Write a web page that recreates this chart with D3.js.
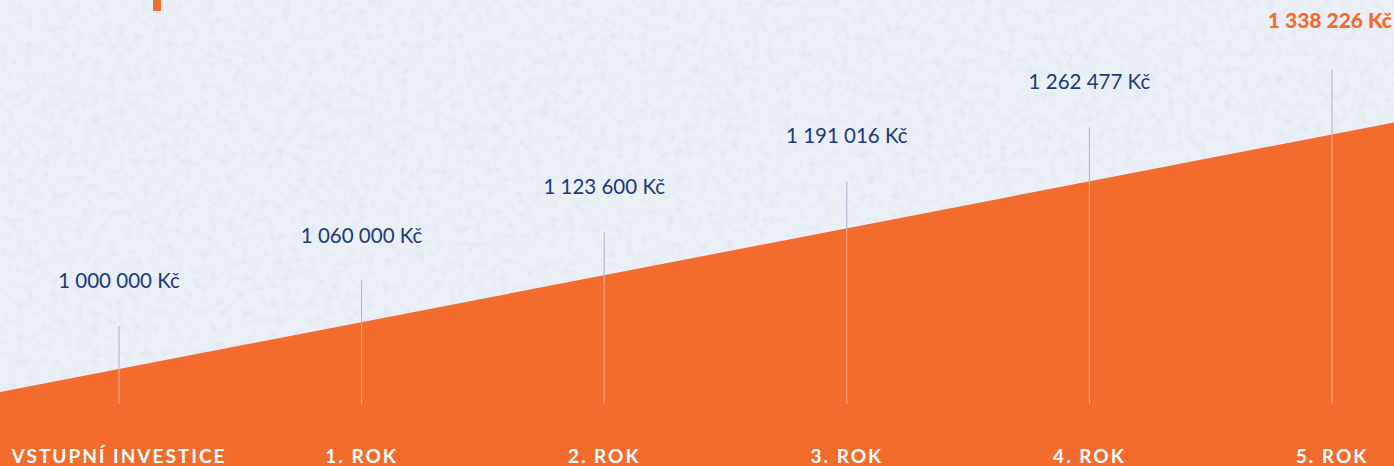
<!DOCTYPE html>
<html>
<head>
<meta charset="utf-8">
<script src="https://cdn.jsdelivr.net/npm/d3@7"></script>
<style>
  html, body { margin: 0; padding: 0; background: #ebeff6; overflow: hidden; }
  svg { display: block; }
</style>
</head>
<body>
<div id="chart"></div>
<script>
// investment growth, 6 % per year
const categories = ["VSTUPNÍ INVESTICE", "1. ROK", "2. ROK", "3. ROK", "4. ROK", "5. ROK"];
const values = [1000000, 1060000, 1123600, 1191016, 1262477, 1338226];
const valueLabels = ["1 000 000 Kč", "1 060 000 Kč", "1 123 600 Kč", "1 191 016 Kč", "1 262 477 Kč", "1 338 226 Kč"];

const width = 1394,
  height = 466;

const orange = "#f36b2d",
  navy = "#1c397a";

const svg = d3.select("#chart").append("svg")
  .attr("width", width)
  .attr("height", height)
  .attr("viewBox", [0, 0, width, height]);

// paper texture
const defs = svg.append("defs");
const noise = defs.append("filter").attr("id", "noise")
  .attr("x", 0).attr("y", 0).attr("width", "100%").attr("height", "100%");
noise.append("feTurbulence")
  .attr("type", "fractalNoise")
  .attr("baseFrequency", 0.12)
  .attr("numOctaves", 3)
  .attr("seed", 3);
noise.append("feColorMatrix")
  .attr("values", "0 0 0 0 0.55  0 0 0 0 0.58  0 0 0 0 0.64  0 0 0 -1.8 0.95");

svg.append("rect")
  .attr("width", width).attr("height", height)
  .attr("fill", "#ebeff6");
svg.append("rect")
  .attr("width", width).attr("height", height)
  .attr("filter", "url(#noise)")
  .attr("opacity", 0.3);

const x = d3.scalePoint()
  .domain(categories)
  .range([119, 1332]);

// where the label stems start
const y = d3.scaleLinear()
  .domain([values[0], values[values.length - 1]])
  .range([326, 70]);

// the rising orange wedge, straight edge through first and last value
const yArea = d3.scaleLinear()
  .domain([values[0], values[values.length - 1]])
  .range([369, 134.5]);

const first = [x(categories[0]), yArea(values[0])],
  last = [x(categories[5]), yArea(values[5])];
const slope = (last[1] - first[1]) / (last[0] - first[0]);
const edge = xx => first[1] + slope * (xx - first[0]);

const areaPts = [[0, edge(0)], [width, edge(width)]];
const area = d3.area()
  .x(d => d[0])
  .y0(height)
  .y1(d => d[1]);

defs.append("clipPath").attr("id", "wedge")
  .append("path").attr("d", area(areaPts));

const stem = g => g.selectAll("line")
  .data(values)
  .join("line")
  .attr("x1", (d, i) => x(categories[i]))
  .attr("x2", (d, i) => x(categories[i]))
  .attr("y1", d => y(d))
  .attr("y2", 404);

svg.append("g")
  .attr("stroke", "#a6b2cd")
  .attr("stroke-width", 1)
  .call(stem);

svg.append("path")
  .attr("d", area(areaPts))
  .attr("fill", orange);

svg.append("g")
  .attr("clip-path", "url(#wedge)")
  .attr("stroke", "#fbb08c")
  .attr("stroke-width", 1)
  .call(stem);

// value labels
svg.append("g")
  .selectAll("text")
  .data(values.slice(0, 5))
  .join("text")
  .attr("x", (d, i) => x(categories[i]))
  .attr("y", d => y(d) - 38)
  .attr("text-anchor", "middle")
  .attr("font-family", "Lato, sans-serif")
  .attr("font-size", 20.5)
  .attr("fill", navy)
  .text((d, i) => valueLabels[i]);

svg.append("text")
  .attr("x", 1392)
  .attr("y", y(values[5]) - 42)
  .attr("text-anchor", "end")
  .attr("font-family", "Lato, sans-serif")
  .attr("font-weight", 900)
  .attr("font-size", 21)
  .attr("fill", orange)
  .text(valueLabels[5]);

// category labels on the orange band
svg.append("g")
  .selectAll("text")
  .data(categories)
  .join("text")
  .attr("x", d => x(d))
  .attr("y", 463)
  .attr("text-anchor", "middle")
  .attr("font-family", "Lato, sans-serif")
  .attr("font-weight", 700)
  .attr("font-size", 19)
  .attr("letter-spacing", 2)
  .attr("fill", "#ffffff")
  .text(d => d);

// small accent mark at the top
svg.append("rect")
  .attr("x", 153).attr("y", 0)
  .attr("width", 8).attr("height", 11)
  .attr("fill", orange);
</script>
</body>
</html>
